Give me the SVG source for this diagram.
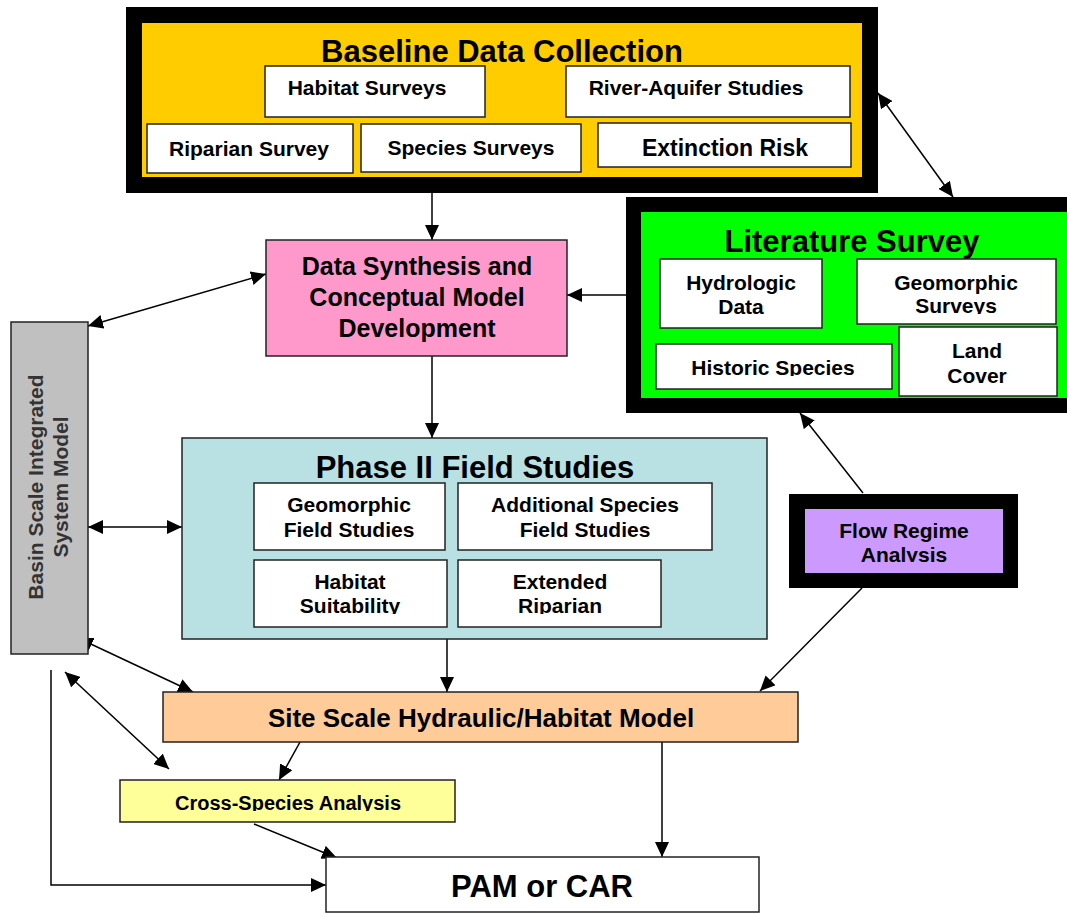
<svg xmlns="http://www.w3.org/2000/svg" width="1067" height="913" viewBox="0 0 1067 913">
<style>
text{font-family:"Liberation Sans",Arial,sans-serif;font-weight:bold;fill:#000;text-anchor:middle}
.t{font-size:31px}
.s{font-size:21px}
.m{font-size:25px}
.box{stroke:#222;stroke-width:1.5}
.w{fill:#fff}
.c{stroke:#000;stroke-width:1.5;fill:none}
</style>
<defs>
<marker id="ah" markerUnits="userSpaceOnUse" markerWidth="15" markerHeight="14" refX="15" refY="7" orient="auto-start-reverse" viewBox="0 0 15 14">
<path d="M0,0 L15,7 L0,14 z" fill="#000"/>
</marker>
<clipPath id="cGeo"><rect x="857" y="259" width="199" height="55"/></clipPath>
<clipPath id="cHist"><rect x="656" y="344" width="236" height="32"/></clipPath>
<clipPath id="cHab"><rect x="254" y="560" width="407" height="54"/></clipPath>
<clipPath id="cFlow"><rect x="805" y="509" width="198" height="53"/></clipPath>
<clipPath id="cCross"><rect x="120" y="780" width="335" height="31"/></clipPath>
</defs>

<g id="connectors">
<line class="c" x1="432" y1="192" x2="432" y2="240" marker-end="url(#ah)"/>
<line class="c" x1="627" y1="295" x2="567" y2="295" marker-end="url(#ah)"/>
<line class="c" x1="432" y1="356" x2="432" y2="438" marker-end="url(#ah)"/>
<line class="c" x1="878" y1="93" x2="953" y2="197" marker-start="url(#ah)" marker-end="url(#ah)"/>
<line class="c" x1="88" y1="326" x2="266" y2="274" marker-start="url(#ah)" marker-end="url(#ah)"/>
<line class="c" x1="88" y1="527" x2="182" y2="527" marker-start="url(#ah)" marker-end="url(#ah)"/>
<line class="c" x1="78" y1="638" x2="193" y2="692" marker-start="url(#ah)" marker-end="url(#ah)"/>
<line class="c" x1="65" y1="672" x2="169" y2="769" marker-start="url(#ah)" marker-end="url(#ah)"/>
<polyline class="c" points="51,670 51,885 326,885" marker-end="url(#ah)"/>
<line class="c" x1="863" y1="493" x2="800" y2="413" marker-end="url(#ah)"/>
<line class="c" x1="862" y1="588" x2="760" y2="691" marker-end="url(#ah)"/>
<line class="c" x1="447" y1="638" x2="447" y2="692" marker-end="url(#ah)"/>
<line class="c" x1="305" y1="733" x2="279" y2="780" marker-end="url(#ah)"/>
<line class="c" x1="662" y1="736" x2="662" y2="857" marker-end="url(#ah)"/>
<line class="c" x1="254" y1="824" x2="337" y2="858" marker-end="url(#ah)"/>
</g>

<g id="baseline">
<rect x="126" y="7" width="752" height="186" fill="#000"/>
<rect x="142" y="23" width="720" height="154" fill="#FFCC00"/>
<text class="t" x="502" y="62">Baseline Data Collection</text>
<rect class="box w" x="265" y="66" width="220" height="51"/>
<text class="s" x="367" y="95">Habitat Surveys</text>
<rect class="box w" x="566" y="66" width="284" height="51"/>
<text class="s" x="696" y="95">River-Aquifer Studies</text>
<rect class="box w" x="147" y="124" width="206" height="49"/>
<text class="s" x="249" y="156">Riparian Survey</text>
<rect class="box w" x="361" y="124" width="220" height="48"/>
<text class="s" x="471" y="155">Species Surveys</text>
<rect class="box w" x="598" y="123" width="253" height="44"/>
<text class="s" x="725" y="156" style="font-size:23px">Extinction Risk</text>
</g>

<g id="literature">
<rect x="626" y="197" width="441" height="216" fill="#000"/>
<rect x="641" y="212" width="426" height="186" fill="#00FF00"/>
<text class="t" x="852" y="252">Literature Survey</text>
<rect class="box w" x="660" y="259" width="162" height="69"/>
<text class="s" x="741" y="290">Hydrologic</text>
<text class="s" x="741" y="314">Data</text>
<rect class="box w" x="857" y="259" width="199" height="65"/>
<g clip-path="url(#cGeo)">
<text class="s" x="956" y="290">Geomorphic</text>
<text class="s" x="956" y="313">Surveys</text>
</g>
<rect class="box w" x="656" y="344" width="236" height="45"/>
<text class="s" x="773" y="375" clip-path="url(#cHist)">Historic Species</text>
<rect class="box w" x="899" y="327" width="158" height="69"/>
<text class="s" x="977" y="358">Land</text>
<text class="s" x="977" y="383">Cover</text>
</g>

<g id="synthesis">
<rect class="box" x="266" y="240" width="301" height="116" fill="#FF99CC"/>
<text class="m" x="417" y="275">Data Synthesis and</text>
<text class="m" x="417" y="306">Conceptual Model</text>
<text class="m" x="417" y="337">Development</text>
</g>

<g id="basin">
<rect class="box" x="11" y="322" width="77" height="332" fill="#C0C0C0"/>
<text class="s" transform="translate(43,487) rotate(-90)" style="fill:#333">Basin Scale Integrated</text>
<text class="s" transform="translate(68,487) rotate(-90)" style="fill:#333">System Model</text>
</g>

<g id="phase2">
<rect class="box" x="182" y="438" width="585" height="201" fill="#B9E0E2"/>
<text class="t" x="475" y="478">Phase II Field Studies</text>
<rect class="box w" x="254" y="483" width="191" height="67"/>
<text class="s" x="349" y="512">Geomorphic</text>
<text class="s" x="349" y="537">Field Studies</text>
<rect class="box w" x="458" y="483" width="254" height="67"/>
<text class="s" x="585" y="512">Additional Species</text>
<text class="s" x="585" y="537">Field Studies</text>
<rect class="box w" x="254" y="560" width="193" height="67"/>
<rect class="box w" x="458" y="560" width="203" height="67"/>
<g clip-path="url(#cHab)">
<text class="s" x="350" y="589">Habitat</text>
<text class="s" x="350" y="613">Suitability</text>
<text class="s" x="560" y="589">Extended</text>
<text class="s" x="560" y="613">Riparian</text>
</g>
</g>

<g id="flow">
<rect x="789" y="494" width="229" height="94" fill="#000"/>
<rect x="805" y="509" width="198" height="64" fill="#CC99FF"/>
<g clip-path="url(#cFlow)">
<text class="s" x="904" y="538">Flow Regime</text>
<text class="s" x="904" y="562">Analysis</text>
</g>
</g>

<g id="site">
<rect class="box" x="163" y="692" width="635" height="50" fill="#FFCC99"/>
<text class="m" x="481" y="727" style="font-size:26px">Site Scale Hydraulic/Habitat Model</text>
</g>

<g id="cross">
<rect class="box" x="120" y="780" width="335" height="42" fill="#FFFF99"/>
<text class="s" x="288" y="810" clip-path="url(#cCross)" style="font-size:20px">Cross-Species Analysis</text>
</g>

<g id="pam">
<rect class="box w" x="326" y="857" width="433" height="55"/>
<text class="t" x="542" y="897">PAM or CAR</text>
</g>
</svg>
